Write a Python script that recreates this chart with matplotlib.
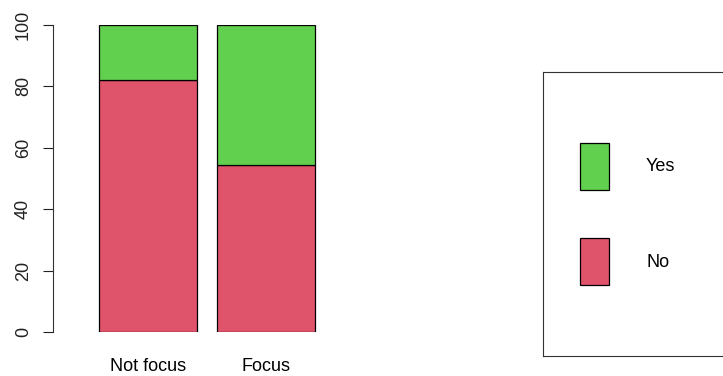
"""Stacked percentage bars: Yes / No by focus group."""

import matplotlib

matplotlib.use("Agg")
import matplotlib.pyplot as plt
from matplotlib.patches import Patch

GROUPS = ["Not focus", "Focus"]
NO_PCT = [82.0, 54.5]
YES_PCT = [18.0, 45.5]
SERIES = ["Yes", "No"]
COLORS = {"No": "#DF536B", "Yes": "#61D04F"}
Y_TICKS = [0, 20, 40, 60, 80, 100]

plt.rcParams["font.family"] = ["Liberation Sans", "DejaVu Sans"]

W, H = 723, 376
fig = plt.figure(figsize=(W / 100, H / 100), dpi=100)

# main plot region in pixel fractions
ax = fig.add_axes([53 / W, (H - 332) / H, (530 - 53) / W, (332 - 24.7) / H])
x = [0.7, 1.9]
ax.bar(x, NO_PCT, width=1.0, color=COLORS["No"], edgecolor="black", linewidth=0.9)
ax.bar(x, YES_PCT, width=1.0, bottom=NO_PCT, color=COLORS["Yes"],
       edgecolor="black", linewidth=0.9)

ax.set_xlim(0.2 - 46 / 98, 0.2 + 431 / 98)
ax.set_ylim(0, 100)
ax.set_xticks(x)
ax.set_xticklabels(GROUPS, fontsize=13)
ax.set_yticks(Y_TICKS)
ax.set_yticklabels([str(t) for t in Y_TICKS], rotation=90, va="center", fontsize=13)
ax.tick_params(axis="x", length=0, pad=19)
ax.tick_params(axis="y", length=7.2, width=0.8, pad=8, colors="#222222")
for side in ["top", "right", "bottom"]:
    ax.spines[side].set_visible(False)
ax.spines["left"].set_bounds(0, 100)
ax.spines["left"].set_linewidth(0.8)
ax.spines["left"].set_color("#333333")
ax.set_facecolor("none")

# legend box
lax = fig.add_axes([543 / W, (H - 356) / H, 200 / W, 284 / H])
lax.set_xticks([])
lax.set_yticks([])
for sp in lax.spines.values():
    sp.set_linewidth(0.8)
    sp.set_color("#333333")
fs = 13
px = fs * 100 / 72
handles = [Patch(facecolor=COLORS[s], edgecolor="black", linewidth=0.9) for s in SERIES]
lax.legend(
    handles, SERIES, loc="center left", frameon=False, fontsize=fs,
    handlelength=29 / px, handleheight=3.63, handletextpad=37 / px,
    labelspacing=48 / px, borderaxespad=37 / px, borderpad=0,
)

fig.savefig("out.png", dpi=100)
